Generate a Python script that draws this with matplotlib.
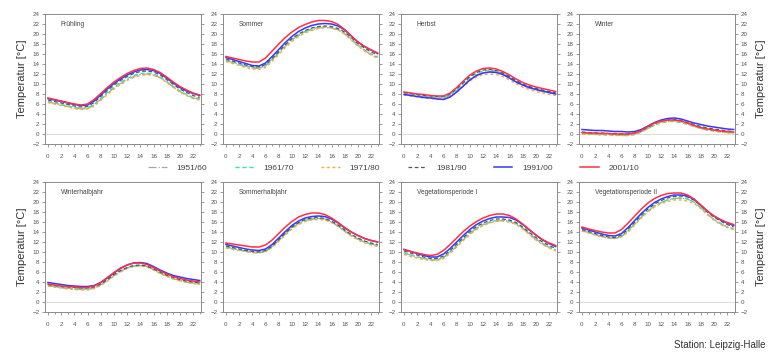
import matplotlib.pyplot as plt

plt.rcParams['font.family'] = ['Liberation Sans', 'DejaVu Sans']

# hours of day and decades
hours = list(range(24))
periods = ["1951/60", "1961/70", "1971/80", "1981/90", "1991/00", "2001/10"]

# Fruehling
fr_5160 = [6.4, 6.1, 5.8, 5.5, 5.2, 5.0, 5.1, 5.8, 6.9, 8.1, 9.2, 10.1, 10.9, 11.5, 11.9, 12.0, 11.8, 11.3, 10.4, 9.4, 8.5, 7.8, 7.2, 6.9]
fr_6170 = [6.5, 6.2, 5.9, 5.6, 5.3, 5.1, 5.2, 5.9, 7.1, 8.3, 9.4, 10.3, 11.1, 11.7, 12.1, 12.2, 12.0, 11.4, 10.5, 9.5, 8.6, 7.9, 7.3, 7.0]
fr_7180 = [6.3, 6.0, 5.7, 5.4, 5.1, 4.9, 5.0, 5.6, 6.7, 7.9, 9.0, 9.9, 10.7, 11.3, 11.7, 11.9, 11.7, 11.2, 10.3, 9.3, 8.4, 7.7, 7.1, 6.8]
fr_8190 = [6.8, 6.5, 6.2, 5.9, 5.6, 5.4, 5.5, 6.3, 7.5, 8.7, 9.8, 10.7, 11.5, 12.1, 12.5, 12.6, 12.4, 11.8, 10.9, 9.9, 9.0, 8.3, 7.7, 7.3]
fr_9100 = [7.1, 6.8, 6.5, 6.2, 5.9, 5.7, 5.8, 6.6, 7.8, 9.0, 10.1, 11.0, 11.8, 12.4, 12.8, 12.9, 12.7, 12.1, 11.2, 10.2, 9.3, 8.6, 8.1, 7.7]
fr_0110 = [7.2, 6.9, 6.6, 6.3, 6.0, 5.8, 6.0, 6.9, 8.1, 9.3, 10.4, 11.3, 12.1, 12.7, 13.1, 13.2, 12.9, 12.3, 11.4, 10.4, 9.5, 8.8, 8.2, 7.8]

# Sommer
so_5160 = [14.7, 14.3, 13.9, 13.5, 13.2, 13.1, 13.6, 14.8, 16.2, 17.6, 18.8, 19.7, 20.4, 20.9, 21.2, 21.3, 21.2, 20.8, 20.0, 18.9, 17.7, 16.7, 15.9, 15.3]
so_6170 = [14.8, 14.4, 14.0, 13.6, 13.3, 13.2, 13.7, 14.9, 16.3, 17.7, 18.9, 19.8, 20.5, 21.0, 21.3, 21.4, 21.3, 20.9, 20.1, 19.0, 17.8, 16.8, 16.0, 15.4]
so_7180 = [14.5, 14.1, 13.7, 13.3, 13.0, 12.9, 13.3, 14.5, 15.9, 17.3, 18.5, 19.5, 20.2, 20.7, 21.1, 21.3, 21.2, 20.8, 20.0, 18.8, 17.6, 16.6, 15.8, 15.1]
so_8190 = [15.0, 14.6, 14.2, 13.8, 13.5, 13.4, 13.9, 15.1, 16.5, 17.9, 19.1, 20.0, 20.7, 21.2, 21.5, 21.6, 21.5, 21.1, 20.4, 19.3, 18.1, 17.2, 16.4, 15.8]
so_9100 = [15.3, 14.9, 14.5, 14.1, 13.7, 13.6, 14.2, 15.5, 16.9, 18.3, 19.5, 20.5, 21.2, 21.7, 22.0, 22.1, 22.0, 21.6, 20.8, 19.6, 18.4, 17.5, 16.8, 16.1]
so_0110 = [15.5, 15.2, 14.9, 14.6, 14.4, 14.4, 15.2, 16.6, 18.0, 19.3, 20.4, 21.3, 21.9, 22.4, 22.7, 22.7, 22.5, 21.9, 20.9, 19.6, 18.4, 17.5, 16.8, 16.2]

# Herbst
he_5160 = [8.0, 7.8, 7.6, 7.4, 7.3, 7.2, 7.2, 7.7, 8.7, 9.9, 11.0, 11.8, 12.3, 12.5, 12.4, 11.9, 11.2, 10.4, 9.7, 9.2, 8.8, 8.5, 8.2, 8.0]
he_6170 = [8.1, 7.9, 7.7, 7.5, 7.4, 7.3, 7.3, 7.8, 8.9, 10.1, 11.3, 12.1, 12.6, 12.8, 12.6, 12.1, 11.4, 10.6, 9.9, 9.3, 8.9, 8.6, 8.3, 8.1]
he_7180 = [7.8, 7.6, 7.4, 7.2, 7.1, 7.0, 7.0, 7.4, 8.4, 9.5, 10.6, 11.4, 11.9, 12.0, 11.9, 11.5, 10.8, 10.1, 9.4, 8.9, 8.5, 8.2, 7.9, 7.7]
he_8190 = [8.3, 8.1, 7.9, 7.7, 7.6, 7.5, 7.5, 8.0, 9.1, 10.3, 11.5, 12.3, 12.8, 12.9, 12.7, 12.2, 11.5, 10.7, 10.0, 9.5, 9.1, 8.8, 8.5, 8.3]
he_9100 = [7.9, 7.7, 7.5, 7.3, 7.2, 7.0, 6.9, 7.4, 8.4, 9.6, 10.8, 11.7, 12.2, 12.4, 12.3, 11.9, 11.2, 10.4, 9.8, 9.3, 8.9, 8.6, 8.3, 8.0]
he_0110 = [8.4, 8.2, 8.0, 7.9, 7.7, 7.6, 7.6, 8.2, 9.3, 10.6, 11.8, 12.6, 13.1, 13.2, 13.0, 12.5, 11.8, 11.0, 10.3, 9.8, 9.4, 9.1, 8.8, 8.5]

# Winter
wi_5160 = [0.2, 0.1, 0.0, 0.0, -0.1, -0.1, -0.2, -0.2, 0.0, 0.5, 1.2, 1.9, 2.4, 2.6, 2.7, 2.5, 2.1, 1.6, 1.2, 0.9, 0.7, 0.5, 0.4, 0.3]
wi_6170 = [0.1, 0.0, -0.1, -0.1, -0.2, -0.2, -0.3, -0.3, -0.1, 0.4, 1.1, 1.8, 2.2, 2.5, 2.5, 2.3, 1.9, 1.5, 1.1, 0.8, 0.6, 0.4, 0.3, 0.2]
wi_7180 = [0.0, -0.1, -0.1, -0.2, -0.2, -0.3, -0.3, -0.3, -0.1, 0.4, 1.1, 1.8, 2.3, 2.5, 2.6, 2.4, 2.0, 1.5, 1.1, 0.8, 0.6, 0.4, 0.2, 0.1]
wi_8190 = [0.4, 0.3, 0.2, 0.2, 0.1, 0.1, 0.0, 0.0, 0.2, 0.7, 1.4, 2.1, 2.6, 2.8, 2.9, 2.7, 2.3, 1.9, 1.5, 1.2, 1.0, 0.8, 0.6, 0.5]
wi_9100 = [0.9, 0.8, 0.7, 0.7, 0.6, 0.5, 0.5, 0.4, 0.5, 0.9, 1.6, 2.3, 2.8, 3.1, 3.2, 3.0, 2.6, 2.2, 1.9, 1.6, 1.4, 1.2, 1.0, 0.9]
wi_0110 = [0.3, 0.2, 0.2, 0.1, 0.1, 0.0, 0.0, 0.0, 0.2, 0.7, 1.5, 2.2, 2.6, 2.8, 2.8, 2.6, 2.2, 1.7, 1.3, 1.0, 0.8, 0.6, 0.5, 0.4]

# Winterhalbjahr
wh_5160 = [3.3, 3.1, 2.9, 2.7, 2.6, 2.5, 2.5, 2.8, 3.4, 4.3, 5.3, 6.1, 6.8, 7.2, 7.3, 7.1, 6.5, 5.8, 5.2, 4.7, 4.3, 4.0, 3.8, 3.6]
wh_6170 = [3.3, 3.1, 2.9, 2.8, 2.7, 2.6, 2.6, 2.8, 3.4, 4.3, 5.3, 6.1, 6.8, 7.2, 7.3, 7.1, 6.5, 5.8, 5.2, 4.7, 4.3, 4.0, 3.8, 3.6]
wh_7180 = [3.2, 3.0, 2.8, 2.6, 2.5, 2.4, 2.4, 2.7, 3.3, 4.2, 5.2, 6.0, 6.7, 7.1, 7.2, 7.0, 6.4, 5.7, 5.1, 4.6, 4.2, 3.9, 3.7, 3.5]
wh_8190 = [3.5, 3.3, 3.1, 3.0, 2.9, 2.8, 2.8, 3.0, 3.6, 4.5, 5.5, 6.3, 6.9, 7.3, 7.4, 7.2, 6.6, 6.0, 5.4, 4.9, 4.5, 4.2, 4.0, 3.8]
wh_9100 = [3.9, 3.7, 3.5, 3.3, 3.2, 3.1, 3.1, 3.3, 3.9, 4.8, 5.8, 6.7, 7.4, 7.8, 7.9, 7.7, 7.1, 6.4, 5.8, 5.3, 5.0, 4.7, 4.5, 4.3]
wh_0110 = [3.6, 3.4, 3.2, 3.1, 3.0, 2.9, 2.9, 3.2, 3.9, 4.9, 5.9, 6.8, 7.4, 7.8, 7.8, 7.5, 6.9, 6.2, 5.6, 5.1, 4.7, 4.4, 4.2, 4.0]

# Sommerhalbjahr
sh_5160 = [11.0, 10.7, 10.4, 10.2, 10.0, 9.9, 10.2, 11.0, 12.3, 13.6, 14.8, 15.7, 16.3, 16.6, 16.7, 16.6, 16.0, 15.2, 14.2, 13.3, 12.6, 12.0, 11.6, 11.3]
sh_6170 = [11.0, 10.7, 10.4, 10.1, 9.9, 9.8, 10.1, 11.0, 12.3, 13.6, 14.8, 15.7, 16.3, 16.6, 16.7, 16.5, 16.0, 15.2, 14.2, 13.3, 12.6, 12.0, 11.6, 11.3]
sh_7180 = [10.8, 10.5, 10.3, 10.1, 9.9, 9.9, 10.1, 10.9, 12.1, 13.4, 14.6, 15.5, 16.1, 16.4, 16.5, 16.4, 15.9, 15.1, 14.1, 13.2, 12.4, 11.8, 11.4, 11.1]
sh_8190 = [11.2, 10.9, 10.6, 10.3, 10.1, 10.0, 10.3, 11.2, 12.5, 13.8, 15.0, 15.9, 16.5, 16.8, 16.9, 16.7, 16.2, 15.4, 14.4, 13.5, 12.8, 12.2, 11.8, 11.5]
sh_9100 = [11.5, 11.2, 10.9, 10.6, 10.4, 10.3, 10.6, 11.5, 12.8, 14.1, 15.3, 16.2, 16.8, 17.1, 17.2, 17.1, 16.6, 15.8, 14.8, 14.0, 13.3, 12.7, 12.3, 12.0]
sh_0110 = [11.8, 11.6, 11.4, 11.2, 11.0, 11.0, 11.4, 12.4, 13.7, 15.0, 16.1, 17.0, 17.5, 17.8, 17.8, 17.5, 16.8, 15.9, 14.9, 14.0, 13.3, 12.7, 12.3, 12.0]

# Vegetationsperiode I
v1_5160 = [9.8, 9.4, 9.0, 8.7, 8.4, 8.4, 8.9, 9.9, 11.2, 12.5, 13.7, 14.7, 15.4, 15.9, 16.2, 16.3, 16.1, 15.6, 14.7, 13.6, 12.5, 11.6, 10.9, 10.4]
v1_6170 = [9.8, 9.4, 9.0, 8.7, 8.4, 8.4, 8.9, 10.0, 11.3, 12.6, 13.8, 14.8, 15.5, 16.0, 16.3, 16.4, 16.2, 15.7, 14.8, 13.7, 12.6, 11.7, 11.0, 10.4]
v1_7180 = [9.5, 9.1, 8.8, 8.5, 8.3, 8.3, 8.7, 9.7, 11.0, 12.3, 13.5, 14.5, 15.3, 15.8, 16.1, 16.2, 16.0, 15.5, 14.6, 13.5, 12.4, 11.5, 10.8, 10.2]
v1_8190 = [10.2, 9.8, 9.4, 9.0, 8.7, 8.7, 9.2, 10.3, 11.6, 12.9, 14.1, 15.1, 15.8, 16.3, 16.6, 16.6, 16.4, 15.9, 15.0, 13.9, 12.9, 12.0, 11.3, 10.7]
v1_9100 = [10.5, 10.1, 9.7, 9.3, 9.0, 9.0, 9.6, 10.7, 12.0, 13.3, 14.5, 15.5, 16.2, 16.7, 17.0, 17.0, 16.9, 16.4, 15.5, 14.4, 13.4, 12.4, 11.7, 11.1]
v1_0110 = [10.5, 10.1, 9.8, 9.5, 9.3, 9.5, 10.3, 11.5, 12.8, 14.1, 15.2, 16.1, 16.8, 17.3, 17.6, 17.6, 17.3, 16.6, 15.6, 14.5, 13.4, 12.5, 11.8, 11.3]

# Vegetationsperiode II
v2_5160 = [14.3, 13.9, 13.5, 13.1, 12.8, 12.7, 13.1, 14.2, 15.6, 17.0, 18.2, 19.2, 19.9, 20.4, 20.7, 20.8, 20.6, 20.0, 18.9, 17.6, 16.5, 15.7, 15.0, 14.6]
v2_6170 = [14.3, 13.9, 13.5, 13.1, 12.8, 12.7, 13.1, 14.2, 15.6, 17.0, 18.2, 19.2, 19.9, 20.4, 20.7, 20.8, 20.6, 20.0, 18.9, 17.6, 16.5, 15.7, 15.0, 14.6]
v2_7180 = [14.2, 13.8, 13.4, 13.0, 12.8, 12.7, 13.0, 14.0, 15.4, 16.8, 18.0, 19.0, 19.7, 20.1, 20.4, 20.4, 20.2, 19.7, 18.7, 17.5, 16.4, 15.5, 14.9, 14.5]
v2_8190 = [14.5, 14.1, 13.7, 13.3, 13.0, 12.9, 13.4, 14.6, 16.0, 17.4, 18.6, 19.6, 20.3, 20.8, 21.1, 21.2, 21.0, 20.4, 19.3, 18.0, 17.0, 16.2, 15.5, 15.0]
v2_9100 = [14.8, 14.4, 14.0, 13.6, 13.3, 13.2, 13.7, 14.9, 16.3, 17.7, 18.9, 19.9, 20.6, 21.1, 21.4, 21.4, 21.2, 20.5, 19.4, 18.2, 17.2, 16.4, 15.8, 15.3]
v2_0110 = [15.0, 14.6, 14.3, 14.0, 13.8, 13.8, 14.5, 15.8, 17.2, 18.6, 19.8, 20.7, 21.3, 21.7, 21.8, 21.8, 21.4, 20.6, 19.4, 18.2, 17.2, 16.5, 15.9, 15.5]

titles = ["Frühling", "Sommer", "Herbst", "Winter",
          "Winterhalbjahr", "Sommerhalbjahr", "Vegetationsperiode I", "Vegetationsperiode II"]
series = [
    [fr_5160, fr_6170, fr_7180, fr_8190, fr_9100, fr_0110],
    [so_5160, so_6170, so_7180, so_8190, so_9100, so_0110],
    [he_5160, he_6170, he_7180, he_8190, he_9100, he_0110],
    [wi_5160, wi_6170, wi_7180, wi_8190, wi_9100, wi_0110],
    [wh_5160, wh_6170, wh_7180, wh_8190, wh_9100, wh_0110],
    [sh_5160, sh_6170, sh_7180, sh_8190, sh_9100, sh_0110],
    [v1_5160, v1_6170, v1_7180, v1_8190, v1_9100, v1_0110],
    [v2_5160, v2_6170, v2_7180, v2_8190, v2_9100, v2_0110],
]

# line styles per decade
colors = ['#a8a8a8', '#3de0a8', '#ffa53a', '#555555', '#3636ff', '#ff2f45']
styles = ['-.', (0, (3, 2)), (0, (2, 2)), (0, (3, 2)), '-', '-']
widths = [0.9, 1.0, 1.0, 0.9, 1.1, 1.1]

W, H = 768, 354
fig = plt.figure(figsize=(W / 100, H / 100), dpi=100)

lefts = [45, 223, 401, 579]
tops = [14, 182]
pw, ph = 156, 130
frame = '#8a8a8a'

lines = []
for i, title in enumerate(titles):
    r, c = divmod(i, 4)
    ax = fig.add_axes([lefts[c] / W, 1 - (tops[r] + ph) / H, pw / W, ph / H])
    ax.axhline(0, color='#dcdcdc', lw=0.8, zorder=0)
    for k in range(6):
        ln, = ax.plot(hours, series[i][k], color=colors[k], linestyle=styles[k],
                      lw=widths[k], label=periods[k])
        if i == 0:
            lines.append(ln)
    ax.set_xlim(-0.45, 23.2)
    ax.set_ylim(-2, 24)
    ax.set_xticks(range(0, 23, 2))
    ax.set_xticks(range(0, 24), minor=True)
    ax.set_yticks(range(-2, 25, 2))
    ax.tick_params(axis='both', which='both', direction='out', colors=frame,
                   labelcolor='#555555', labelsize=4.5, width=0.6)
    ax.tick_params(axis='y', right=True, length=2.5, pad=1.5)
    ax.tick_params(axis='x', which='major', length=2.5, pad=5)
    ax.tick_params(axis='x', which='minor', length=1.5)
    if c == 3:
        ax.tick_params(axis='y', labelright=True)
        ax.yaxis.set_label_position('right')
        ax.set_ylabel("Temperatur [°C]", fontsize=8, color='#333333', labelpad=6)
    if c == 0:
        ax.set_ylabel("Temperatur [°C]", fontsize=8, color='#333333', labelpad=4)
    for sp in ax.spines.values():
        sp.set_color(frame)
        sp.set_linewidth(0.7)
    ax.text(0.1, 0.92, title, transform=ax.transAxes, fontsize=4.8,
            color='#444444', va='center', ha='left')

fig.legend(handles=lines, loc='center', bbox_to_anchor=(0.513, 1 - 168 / H), ncol=6,
           frameon=False, fontsize=6, handlelength=2.2, columnspacing=3.3,
           handletextpad=1.2, labelcolor='#444444')

fig.text(765 / W, 1 - 345 / H, "Station: Leipzig-Halle", fontsize=7, color='#333333',
         ha='right', va='center')

fig.savefig("out.png", dpi=100)
